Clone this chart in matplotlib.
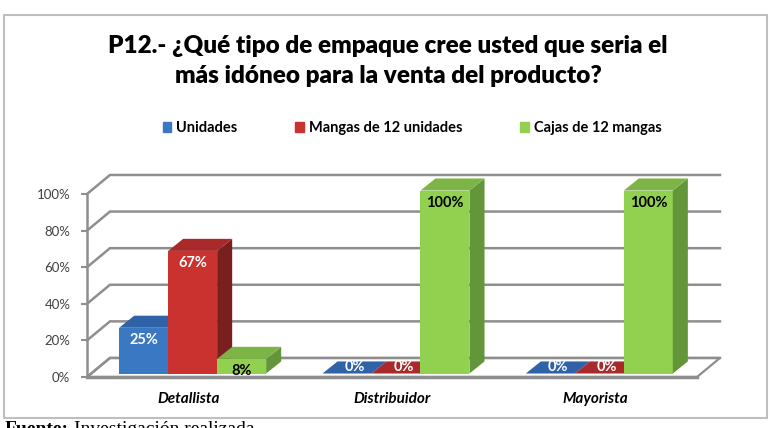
import matplotlib.pyplot as plt
from matplotlib.patches import Polygon, Rectangle

categories = ['Detallista', 'Distribuidor', 'Mayorista']
series = ['Unidades', 'Mangas de 12 unidades', 'Cajas de 12 mangas']
unidades = [25, 0, 0]
mangas = [67, 0, 0]
cajas = [8, 100, 100]
yticks = [0, 20, 40, 60, 80, 100]

front_col = ['#3b78c4', '#c9322e', '#92d050']
top_col = ['#2f62a6', '#a82a2a', '#7cb545']
side_col = ['#24508a', '#7a1f1f', '#63963a']
text_col = ['white', 'white', 'black']
grid_col = '#8e8e8e'

W, H = 775, 428
fig = plt.figure(figsize=(W / 100, H / 100), dpi=100)
plt.rcParams['font.family'] = ['Lato', 'DejaVu Sans']

# outer frame
fig.patches.append(Rectangle((4 / W, 1 - 418 / H), 763 / W, 403 / H, transform=fig.transFigure,
                             fill=False, edgecolor='#bfbfbf', lw=1.5))

fig.text(388 / W, 1 - 61 / H, 'P12.- ¿Qué tipo de empaque cree usted que seria el\nmás idóneo para la venta del producto?',
         ha='center', va='center', fontsize=17.5, fontweight='heavy', linespacing=1.42, color='black')

# source note (cut by the image edge, as in the original)
fig.text(5 / W, 1 - 421 / H, 'Fuente:', family='Liberation Serif', fontweight='bold',
         fontsize=14, va='top', ha='left')
fig.text(74 / W, 1 - 421 / H, 'Investigación realizada', family='Liberation Serif',
         fontsize=14, va='top', ha='left')

ax = fig.add_axes([87 / W, 1 - 377 / H, 610 / W, 183 / H])
ax.set_xlim(-0.5, 2.5)
ax.set_ylim(0, 100)

# depth of walls and bars (data units)
wdx, wdy = 0.113, 10.4
bdx, bdy = 0.074, 6.6
ox, oy = (wdx - bdx) / 2, (wdy - bdy) / 2
bw = 0.241

# floor
ax.add_patch(Polygon([(-0.5, 0), (2.5, 0), (2.5 + wdx, wdy), (-0.5 + wdx, wdy)], closed=True,
                     facecolor='white', edgecolor=grid_col, lw=1.6, clip_on=False, zorder=1))
# walls / gridlines
for t in yticks:
    ax.plot([-0.5, -0.5 + wdx, 2.5 + wdx], [t, t + wdy, t + wdy], color=grid_col, lw=1.8,
            clip_on=False, zorder=1, solid_joinstyle='miter')
ax.plot([-0.5, 2.5], [0, 0], color=grid_col, lw=2.5, clip_on=False, zorder=2)

z = 3
for i in range(len(categories)):
    for j, vals in enumerate([unidades, mangas, cajas]):
        v = vals[i]
        x0 = i - 1.5 * bw + j * bw + ox
        x1 = x0 + bw
        ax.bar(x0, v, width=bw, bottom=oy, align='edge', color=front_col[j], clip_on=False, zorder=z)
        ax.add_patch(Polygon([(x1, oy), (x1 + bdx, oy + bdy), (x1 + bdx, oy + v + bdy), (x1, oy + v)],
                             closed=True, facecolor=side_col[j], edgecolor='none', clip_on=False, zorder=z))
        ax.add_patch(Polygon([(x0, oy + v), (x1, oy + v), (x1 + bdx, oy + v + bdy), (x0 + bdx, oy + v + bdy)],
                             closed=True, facecolor=top_col[j], edgecolor='none', clip_on=False, zorder=z))
        if v == 0:
            ax.text(x0 + bw / 2 + bdx / 2, oy + bdy / 2, f'{v}%', ha='center', va='center', fontsize=10.5,
                    fontweight='bold', color='white', zorder=z + 1)
        else:
            ax.annotate(f'{v}%', (x0 + bw / 2, oy + v), xytext=(0, -12), textcoords='offset pixels',
                        ha='center', va='center', fontsize=10.5, fontweight='bold', color=text_col[j],
                        zorder=z + 1, annotation_clip=False)
        z += 1

for s in ['top', 'right', 'bottom']:
    ax.spines[s].set_visible(False)
ax.spines['left'].set_color(grid_col)
ax.spines['left'].set_linewidth(1.8)
ax.set_yticks(yticks)
ax.set_yticklabels([f'{t}%' for t in yticks], fontsize=9.5, color='#404040')
ax.tick_params(axis='y', length=4, color=grid_col, width=1.5, pad=8)
ax.set_xticks(range(len(categories)))
ax.set_xticklabels(categories, fontsize=11, fontweight='bold', fontstyle='italic')
ax.tick_params(axis='x', length=0, pad=11)
ax.set_facecolor('none')

handles = [Rectangle((0, 0), 1, 1, color=c) for c in front_col]
fig.legend(handles, series, loc='center', bbox_to_anchor=(412 / W, 1 - 128 / H), ncol=3, frameon=False,
           prop={'weight': 'bold', 'size': 10.5}, handlelength=0.6, handleheight=0.7, handletextpad=0.3,
           columnspacing=4.0)

fig.savefig('out.png', dpi=100)
